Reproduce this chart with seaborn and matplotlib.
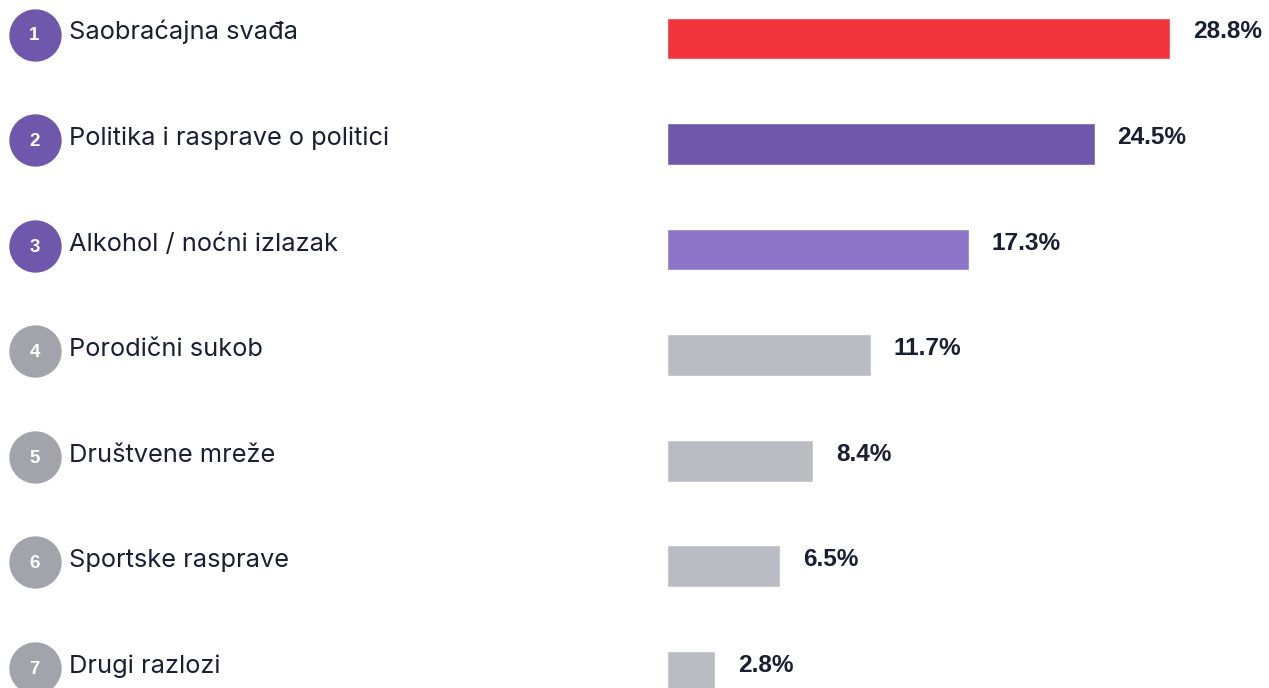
import pandas as pd
import matplotlib.pyplot as plt
import matplotlib.transforms as mtransforms
import seaborn as sns

razlozi = ["Saobraćajna svađa", "Politika i rasprave o politici", "Alkohol / noćni izlazak",
           "Porodični sukob", "Društvene mreže", "Sportske rasprave", "Drugi razlozi"]
procenti = [28.8, 24.5, 17.3, 11.7, 8.4, 6.5, 2.8]
boje_traka = ["#F1333B", "#6F57AB", "#8E75C9", "#BBBBC3", "#BBBBC3", "#BBBBC3", "#BBBBC3"]
boje_krugova = ["#6F57AB", "#6F57AB", "#6F57AB", "#A3A3AB", "#A3A3AB", "#A3A3AB", "#A3A3AB"]

df = pd.DataFrame({"razlog": razlozi, "procenat": procenti})

sns.set_style("white")
plt.rcParams['font.family'] = ['Inter', 'DejaVu Sans']

W, H = 1269, 688
fig = plt.figure(figsize=(W / 100, H / 100), dpi=100)
ax = fig.add_axes([0, 0, 1, 1])

sns.barplot(data=df, x="procenat", y="razlog", hue="razlog", palette=boje_traka,
            legend=False, width=0.395, ax=ax, saturation=1)

# skala: ~17.47 px po procentu, trake pocinju na x=667 px
px_po_jed = 17.47
ax.set_xlim(-666.5 / px_po_jed, (W - 666.5) / px_po_jed)
red_px = 105.55
ax.set_ylim((H - 38.5) / red_px, -38.5 / red_px)
ax.axis("off")

lev = mtransforms.blended_transform_factory(ax.transAxes, ax.transData)
tekst = "#1A2033"

for i, (r, p) in enumerate(zip(razlozi, procenti)):
    y_krug = i - 4 / red_px
    ax.scatter([34.5 / W], [y_krug], s=1420, color=boje_krugova[i], transform=lev,
               linewidths=0, zorder=3, clip_on=False)
    ax.text(34.5 / W, y_krug + 1.5 / red_px, str(i + 1), transform=lev, ha="center", va="center",
            color="white", fontsize=13.5, fontweight="bold", family=["Liberation Sans"], zorder=4)
    ax.text(69 / W, i + 1 / red_px, r, transform=lev, ha="left", va="baseline",
            color=tekst, fontsize=18.3)
    ax.annotate(f"{p}%", xy=(p, i), xytext=(23 * 0.72, 0), textcoords="offset points",
                ha="left", va="baseline", color=tekst, fontsize=17.6, fontweight="bold",
                family=["Liberation Sans"])

fig.savefig("out.png", dpi=100)
plt.close(fig)
